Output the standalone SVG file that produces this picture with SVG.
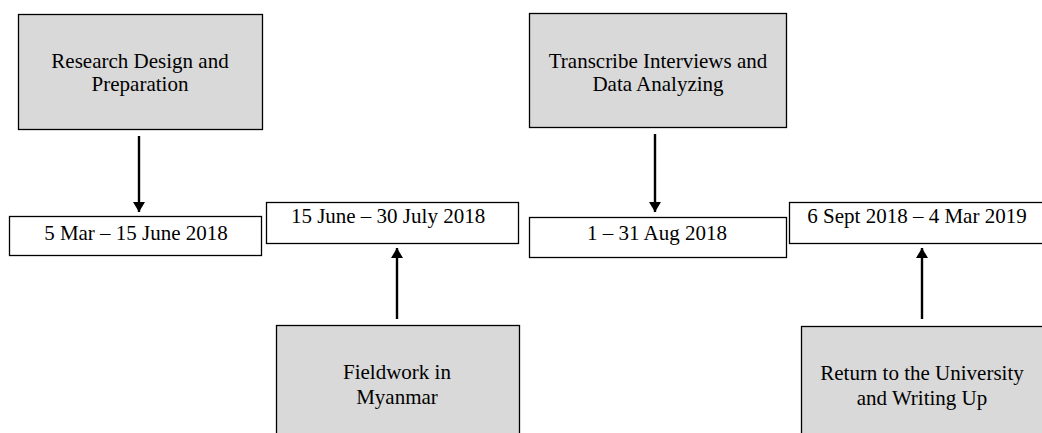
<svg xmlns="http://www.w3.org/2000/svg" width="1042" height="433" viewBox="0 0 1042 433">
<style>
.phase{fill:#d9d9d9;stroke:#000;stroke-width:1.3}
.date{fill:#fff;stroke:#000;stroke-width:1.3}
text{font-family:"Liberation Serif","Times New Roman",serif;font-size:21px;fill:#000;text-anchor:middle}
.conn{stroke:#000;stroke-width:2.4;fill:none}
</style>
<defs>
<marker id="ah" viewBox="0 0 10 12" refX="10" refY="6" markerWidth="4.2" markerHeight="5" markerUnits="strokeWidth" orient="auto">
<path d="M0,0 L10,6 L0,12 z" fill="#000"/>
</marker>
</defs>
<rect width="1042" height="433" fill="#fff"/>
<g id="n-research">
<rect class="phase" x="18.5" y="14.5" width="244" height="115"/>
<text x="140" y="68">Research Design and</text>
<text x="140" y="91">Preparation</text>
</g>
<g id="n-transcribe">
<rect class="phase" x="529.5" y="13.5" width="257" height="114"/>
<text x="658" y="68">Transcribe Interviews and</text>
<text x="658" y="91">Data Analyzing</text>
</g>
<g id="n-fieldwork">
<rect class="phase" x="276.5" y="325.5" width="243" height="120"/>
<text x="397" y="379">Fieldwork in</text>
<text x="397" y="404">Myanmar</text>
</g>
<g id="n-return">
<rect class="phase" x="801.5" y="326.5" width="250" height="120"/>
<text x="922" y="380">Return to the University</text>
<text x="922" y="405">and Writing Up</text>
</g>
<g id="d1">
<rect class="date" x="9.5" y="216.5" width="252" height="39"/>
<text x="136" y="240">5 Mar – 15 June 2018</text>
</g>
<g id="d2">
<rect class="date" x="266.5" y="202.5" width="252" height="41"/>
<text x="388" y="223">15 June – 30 July 2018</text>
</g>
<g id="d3">
<rect class="date" x="529.5" y="217.5" width="257" height="40"/>
<text x="657" y="240">1 – 31 Aug 2018</text>
</g>
<g id="d4">
<rect class="date" x="789.5" y="202.5" width="260" height="41"/>
<text x="917" y="223">6 Sept 2018 – 4 Mar 2019</text>
</g>
<g id="connectors">
<line class="conn" x1="139" y1="136" x2="139" y2="212" marker-end="url(#ah)"/>
<line class="conn" x1="655" y1="134" x2="655" y2="212" marker-end="url(#ah)"/>
<line class="conn" x1="397" y1="319" x2="397" y2="248" marker-end="url(#ah)"/>
<line class="conn" x1="922" y1="319" x2="922" y2="248" marker-end="url(#ah)"/>
</g>
</svg>
